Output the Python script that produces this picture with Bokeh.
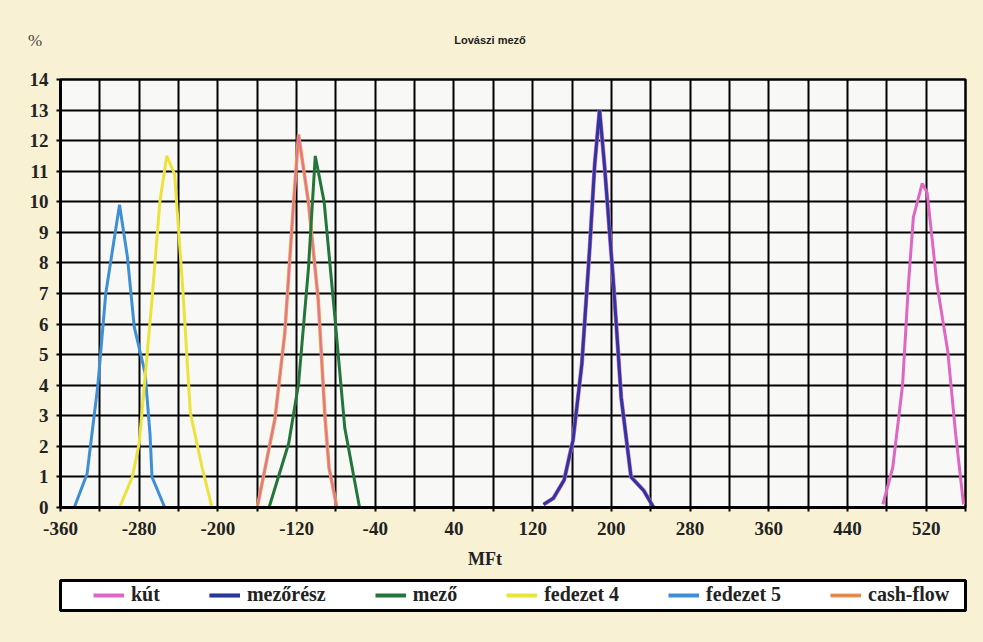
from bokeh.plotting import figure
from bokeh.models import Range1d, FixedTicker, Legend, LegendItem, Div
from bokeh.layouts import column
from bokeh.embed import file_html
from bokeh.resources import INLINE

# ---- data ----
kut_x = [476, 486, 496, 502, 507, 516, 521, 531, 542, 550, 558]
kut_y = [0.1, 1.3, 4.0, 7.3, 9.5, 10.6, 10.3, 7.3, 5.1, 2.4, 0.1]

mezoresz_x = [131, 141, 152, 161, 170, 178, 183, 188, 193, 202, 210, 220, 233, 243]
mezoresz_y = [0.1, 0.3, 0.9, 2.2, 4.7, 8.5, 11.2, 13.0, 11.2, 7.4, 3.6, 1.0, 0.55, 0.0]

mezo_x = [-148, -128, -118, -108, -101, -92, -81, -71, -56]
mezo_y = [0.0, 2.1, 4.05, 7.8, 11.5, 10.0, 6.2, 2.6, 0.0]

fed4_x = [-300, -287, -280, -267, -259, -252, -244, -236, -228, -216, -206]
fed4_y = [0.0, 1.0, 2.1, 6.8, 10.0, 11.5, 10.9, 7.3, 3.1, 1.3, 0.0]

fed5_x = [-360, -346, -333, -322, -314, -300, -292, -285, -274, -269, -267, -254]
fed5_y = [0.0, 0.0, 1.1, 4.0, 7.0, 9.9, 8.2, 5.9, 4.4, 2.4, 1.0, 0.0]

cash_x = [-160, -142, -132, -123, -118, -108, -98, -91, -87, -79]
cash_y = [0.0, 2.9, 5.7, 10.0, 12.2, 10.0, 6.8, 2.9, 1.3, 0.0]

series_names = ["kút", "mezőrész", "mező", "fedezet 4", "fedezet 5", "cash-flow"]

x_ticks = list(range(-360, 561, 40))
y_ticks = list(range(0, 15))

title_text = "Lovászi mező"
unit_text = "%"
x_label = "MFt"

CREAM = "#f8f1d3"
PINK = "#e066c4"
NAVY = "#27389e"
GREEN = "#23753a"
YELLOW = "#ece33a"
BLUE = "#3f8fd6"
ORANGE = "#f0a030"

TOP_H = 60
MAIN_H = 485
MFT_H = 25
LEG_H = 642 - TOP_H - MAIN_H - MFT_H

header = Div(width=983, height=TOP_H,
             text=(
                 '<div style="position:relative;width:983px;height:%dpx;">'
                 '<span style="position:absolute;left:28px;top:29px;font-family:\'Liberation Serif\';'
                 'font-size:17px;color:#444;">%s</span>'
                 '<span style="position:absolute;left:430px;top:33px;width:120px;text-align:center;'
                 'font-family:\'Liberation Sans Narrow\',\'Liberation Sans\';font-weight:bold;'
                 'font-size:11px;color:#222;">%s</span></div>' % (TOP_H, unit_text, title_text)),
             styles={"background-color": CREAM, "margin": "0", "padding": "0"})

p = figure(width=983, height=MAIN_H, output_backend="svg", toolbar_location=None,
           x_range=Range1d(-360, 560), y_range=Range1d(0, 14),
           min_border_left=58, min_border_right=18, min_border_top=79 - TOP_H,
           min_border_bottom=MAIN_H - (79 - TOP_H) - 428)
p.background_fill_color = "#f8f8f6"
p.border_fill_color = CREAM
p.outline_line_color = "black"
p.outline_line_width = 2.5

# axes
p.xaxis.ticker = FixedTicker(ticks=x_ticks)
p.xaxis.major_label_overrides = {t: ("" if (t + 360) % 80 else str(t)) for t in x_ticks}
p.yaxis.ticker = FixedTicker(ticks=y_ticks)
for ax in (p.xaxis[0], p.yaxis[0]):
    ax.axis_line_color = "black"
    ax.axis_line_width = 3
    ax.major_tick_line_color = "black"
    ax.major_tick_line_width = 2
    ax.major_tick_in = 0
    ax.major_tick_out = 4
    ax.minor_tick_line_color = None
    ax.major_label_text_font = "Liberation Serif"
    ax.major_label_text_font_style = "bold"
    ax.major_label_text_font_size = "19px"
    ax.major_label_text_color = "#222222"
p.xaxis.major_label_standoff = 10
p.yaxis.major_label_standoff = 8

p.xgrid.ticker = FixedTicker(ticks=x_ticks)
p.ygrid.ticker = FixedTicker(ticks=y_ticks)
for g in (p.xgrid[0], p.ygrid[0]):
    g.grid_line_color = "black"
    g.grid_line_width = 2
    g.level = "underlay"

# series
p.line(fed5_x, fed5_y, line_color=BLUE, line_width=3)
p.line(fed4_x, fed4_y, line_color=YELLOW, line_width=3)
p.line(cash_x, cash_y, line_color=ORANGE, line_width=3.5)
p.line(cash_x, cash_y, line_color=PINK, line_width=1.5)
p.line(mezo_x, mezo_y, line_color=GREEN, line_width=3)
p.line(mezoresz_x, mezoresz_y, line_color=PINK, line_width=4.2)
p.line(mezoresz_x, mezoresz_y, line_color=NAVY, line_width=3)
p.line(kut_x, kut_y, line_color=PINK, line_width=3)

mft = Div(width=983, height=MFT_H,
          text=('<div style="position:relative;width:983px;height:%dpx;">'
                '<span style="position:absolute;left:468px;top:2px;font-family:\'Liberation Serif\';'
                'font-weight:bold;font-size:18px;color:#222;">%s</span></div>' % (MFT_H, x_label)),
          styles={"background-color": CREAM, "margin": "0", "padding": "0"})

# legend strip: its frame is the white legend box
q = figure(width=983, height=LEG_H, output_backend="svg", toolbar_location=None,
           x_range=Range1d(-360, 560), y_range=Range1d(100, 101),
           x_axis_location=None, y_axis_location=None,
           min_border_left=60, min_border_right=11, min_border_top=10,
           min_border_bottom=LEG_H - 10 - 30)
q.grid.visible = False
q.background_fill_color = "white"
q.border_fill_color = CREAM
q.outline_line_color = "black"
q.outline_line_width = 3

series_data = [(kut_x, kut_y), (mezoresz_x, mezoresz_y), (mezo_x, mezo_y),
               (fed4_x, fed4_y), (fed5_x, fed5_y), (cash_x, cash_y)]
leg_styles = [
    [(PINK, 4)],
    [(PINK, 5), (NAVY, 3)],
    [(GREEN, 4)],
    [(YELLOW, 4)],
    [(BLUE, 4)],
    [(ORANGE, 4), (PINK, 1.5)],
]
items = []
for name, (xs, ys), styles in zip(series_names, series_data, leg_styles):
    rs = [q.line(xs, ys, line_color=c, line_width=w) for c, w in styles]
    items.append(LegendItem(label=name, renderers=rs))

legend = Legend(items=items, orientation="horizontal", location=(33, 4))
legend.background_fill_alpha = 0
legend.border_line_color = None
legend.label_text_font = "Liberation Serif"
legend.label_text_font_style = "bold"
legend.label_text_font_size = "20px"
legend.label_text_color = "#222222"
legend.label_height = 20
legend.glyph_width = 31
legend.glyph_height = 16
legend.label_standoff = 7
legend.spacing = 49
legend.padding = 0
legend.margin = 0
q.add_layout(legend, "center")

layout = column(header, p, mft, q, spacing=0, styles={"background-color": CREAM})
open("out.html", "w").write(file_html(layout, INLINE))
